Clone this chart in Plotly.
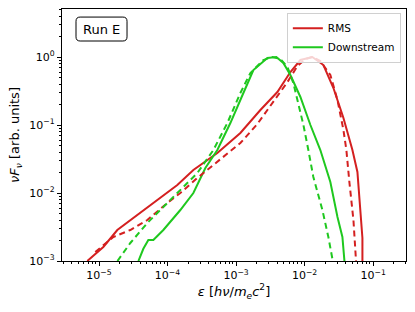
import plotly.graph_objects as go

# log10 values
rms_solid_logx = [-5.171, -4.937, -4.733, -4.499, -4.105, -3.857, -3.623, -3.273, -2.937, -2.645,
                  -2.397, -2.207, -2.061, -1.886, -1.725, -1.579, -1.433, -1.302, -1.229, -1.156, -1.156]
rms_solid_logy = [-3.0, -2.794, -2.544, -2.368, -2.059, -1.882, -1.662, -1.412, -1.118, -0.779,
                  -0.515, -0.221, -0.044, 0.0, -0.118, -0.456, -0.897, -1.368, -1.691, -2.662, -3.3]

rms_dash_logx = [-5.054, -4.981, -4.791, -4.543, -4.295, -4.003, -3.813, -3.565, -3.185, -2.937,
                 -2.689, -2.455, -2.25, -2.104, -1.988, -1.886, -1.77, -1.624, -1.52, -1.433,
                 -1.39, -1.345, -1.287, -1.243]
rms_dash_logy = [-2.868, -2.809, -2.647, -2.544, -2.397, -2.147, -2.0, -1.779, -1.471, -1.265,
                 -0.985, -0.662, -0.368, -0.132, -0.03, 0.0, -0.059, -0.265, -0.632, -1.074,
                 -1.368, -1.853, -2.397, -3.1]

down_solid_logx = [-4.425, -4.353, -4.28, -4.207, -4.061, -3.813, -3.623, -3.448, -3.273, -3.083,
                   -2.893, -2.747, -2.543, -2.412, -2.31, -2.207, -2.061, -1.915, -1.77, -1.624,
                   -1.52, -1.448, -1.41]
down_solid_logy = [-3.0, -2.82, -2.69, -2.69, -2.544, -2.25, -2.0, -1.632, -1.368, -0.971,
                   -0.529, -0.191, -0.015, 0.0, -0.088, -0.265, -0.588, -1.0, -1.368, -1.838,
                   -2.353, -2.647, -3.1]

down_dash_logx = [-4.731, -4.543, -4.295, -4.061, -3.813, -3.565, -3.331, -3.127, -2.937, -2.791,
                  -2.601, -2.47, -2.353, -2.25, -2.164, -2.09, -2.017, -1.945, -1.872, -1.74,
                  -1.653, -1.57]
down_dash_logy = [-3.0, -2.735, -2.441, -2.206, -1.956, -1.706, -1.368, -0.971, -0.529, -0.235,
                  -0.044, 0.0, -0.03, -0.147, -0.382, -0.706, -1.0, -1.368, -1.765, -2.25,
                  -2.647, -3.1]

x_tick_exps = [-5, -4, -3, -2, -1]
y_tick_exps = [-3, -2, -1, 0]

RED = "#d42020"
GREEN = "#1fc81f"
FONT = "DejaVu Sans"


def p(v):
    return [10 ** a for a in v]


def tick_text(e):
    s = str(e).replace("-", "\u2212")
    return f"10<sup>{s}</sup>"


fig = go.Figure()
fig.add_trace(go.Scatter(x=p(rms_solid_logx), y=p(rms_solid_logy), mode="lines",
                         line=dict(color=RED, width=2), name="RMS"))
fig.add_trace(go.Scatter(x=p(down_solid_logx), y=p(down_solid_logy), mode="lines",
                         line=dict(color=GREEN, width=2), name="Downstream"))
fig.add_trace(go.Scatter(x=p(rms_dash_logx), y=p(rms_dash_logy), mode="lines",
                         line=dict(color=RED, width=2, dash="6px,4px"), showlegend=False))
fig.add_trace(go.Scatter(x=p(down_dash_logx), y=p(down_dash_logy), mode="lines",
                         line=dict(color=GREEN, width=2, dash="6px,4px"), showlegend=False))

axis_common = dict(
    type="log", showgrid=False, zeroline=False, automargin=False,
    showline=True, linecolor="black", linewidth=1.3, mirror=True,
    ticks="outside", ticklen=4, tickwidth=1, tickcolor="black",
    tickfont=dict(family=FONT, size=11, color="black"),
    minor=dict(ticks="outside", ticklen=2, tickcolor="black", dtick="D1", showgrid=False),
)

fig.update_xaxes(**axis_common, range=[-5.54, -0.52],
                 tickvals=[10 ** e for e in x_tick_exps],
                 ticktext=[tick_text(e) for e in x_tick_exps],
                 title=dict(text="<i>ε</i> [<i>hν</i>/<i>m</i><sub><i>e</i></sub><i>c</i><sup>2</sup>]",
                            font=dict(family=FONT, size=13, color="black"), standoff=1))
fig.update_yaxes(**axis_common, range=[-3, 0.706],
                 tickvals=[10 ** e for e in y_tick_exps],
                 ticktext=[tick_text(e) for e in y_tick_exps],
                 title=dict(text="<i>νF</i><sub><i>ν</i></sub> [arb. units]",
                            font=dict(family=FONT, size=13, color="black"), standoff=6))

# rounded box around "Run E"
x0, x1, y0, y1, r = 0.0407, 0.189, 0.873, 0.968, 0.012
ry = r * 344 / 252
path = (f"M {x0 + r},{y0} L {x1 - r},{y0} Q {x1},{y0} {x1},{y0 + ry} "
        f"L {x1},{y1 - ry} Q {x1},{y1} {x1 - r},{y1} L {x0 + r},{y1} "
        f"Q {x0},{y1} {x0},{y1 - ry} L {x0},{y0 + ry} Q {x0},{y0} {x0 + r},{y0} Z")
fig.add_shape(type="path", path=path, xref="paper", yref="paper",
              line=dict(color="black", width=1), fillcolor="white", layer="above")
fig.add_annotation(x=(x0 + x1) / 2, y=(y0 + y1) / 2, xref="paper", yref="paper",
                   xanchor="center", yanchor="middle", text="Run E", showarrow=False,
                   font=dict(family=FONT, size=13, color="black"))

fig.update_layout(
    width=415, height=312,
    margin=dict(l=62, r=9, t=9, b=51, autoexpand=False),
    plot_bgcolor="white", paper_bgcolor="white",
    legend=dict(x=0.985, y=0.985, xanchor="right", yanchor="top",
                bordercolor="#d0d0d0", borderwidth=1, bgcolor="rgba(255,255,255,0.8)",
                font=dict(family=FONT, size=10.5, color="black"),
                itemwidth=30, tracegroupgap=0),
)

fig.write_html("out.html", config={"responsive": False, "displayModeBar": False},
               post_script="document.body.style.margin='0';document.body.style.overflow='hidden';")
